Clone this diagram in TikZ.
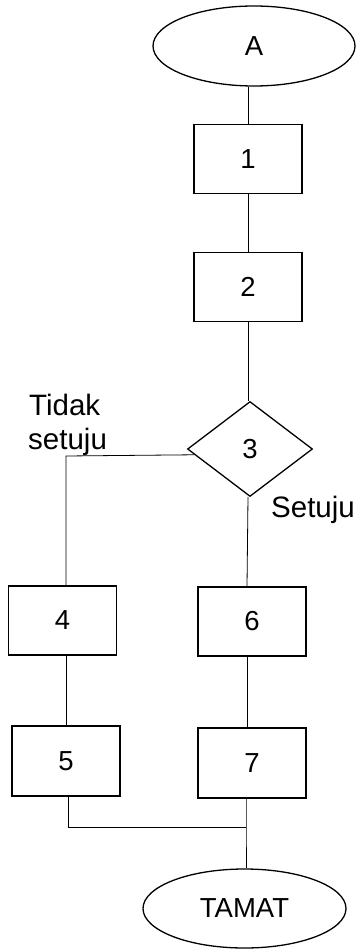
\documentclass[tikz,border=0pt]{standalone}
\usepackage{fontspec}
\setmainfont{Liberation Sans}
\usetikzlibrary{shapes.geometric,calc}
\begin{document}
\begin{tikzpicture}[x=1pt,y=-1pt,
  box/.style={draw,line width=1.3pt,rectangle,minimum width=108pt,minimum height=69pt,inner sep=0pt,font=\fontsize{27.5}{32}\selectfont},
  term/.style={draw,line width=1.3pt,ellipse,minimum width=202pt,minimum height=80pt,inner sep=0pt,font=\fontsize{27.5}{32}\selectfont},
  dec/.style={draw,line width=1.3pt,diamond,minimum width=125pt,minimum height=95pt,inner sep=0pt,font=\fontsize{27.5}{32}\selectfont},
  lbl/.style={inner sep=0pt,font=\fontsize{29.5}{34}\selectfont,anchor=base west},
  conn/.style={line width=0.8pt}]
\useasboundingbox (0,0) rectangle (356,949);
\node[term] (A) at (254,46) {A};
\node[box] (b1) at (248,159) {1};
\node[box] (b2) at (248,287) {2};
\node[dec] (d) at (250,449) {3};
\node[box] (b4) at (62.5,620.5) {4};
\node[box] (b6) at (252,621.5) {6};
\node[box,minimum height=70pt] (b5) at (66,761) {5};
\node[box,minimum height=70pt] (b7) at (252,763) {7};
\node[term,minimum width=203pt,minimum height=79pt] (T) at (244.5,908.5) {TAMAT};
\node[lbl] (t1) at (29,415) {Tidak};
\node[lbl] (t2) at (28,449) {setuju};
\node[lbl] (t3) at (271,517) {Setuju};
\coordinate (dl) at ($(d.west)!0.12!(d.south)$);
\coordinate (tl) at (66,456);
\coordinate (jn) at (246,827);
\draw[conn] (b1.north) -- (b1.north |- A.south);
\draw[conn] (b1.south) -- (b2.north);
\draw[conn] (b2.south) -- (b2.south |- d.north);
\draw[conn] (dl) -- (tl) -- (tl |- b4.north);
\draw[conn] ([xshift=-2pt]d.south) -- ([xshift=-5pt]b6.north);
\draw[conn] ([xshift=3.5pt]b4.south) -- ([xshift=0pt]b5.north);
\draw[conn] ([xshift=-5pt]b6.south) -- ([xshift=-5pt]b7.north);
\draw[conn] ([xshift=2pt]b5.south) -- ([xshift=2pt]b5.south |- jn) -- (jn);
\draw[conn] ([xshift=-6pt]b7.south) -- (jn) -- (jn |- T.north);
\end{tikzpicture}
\end{document}
